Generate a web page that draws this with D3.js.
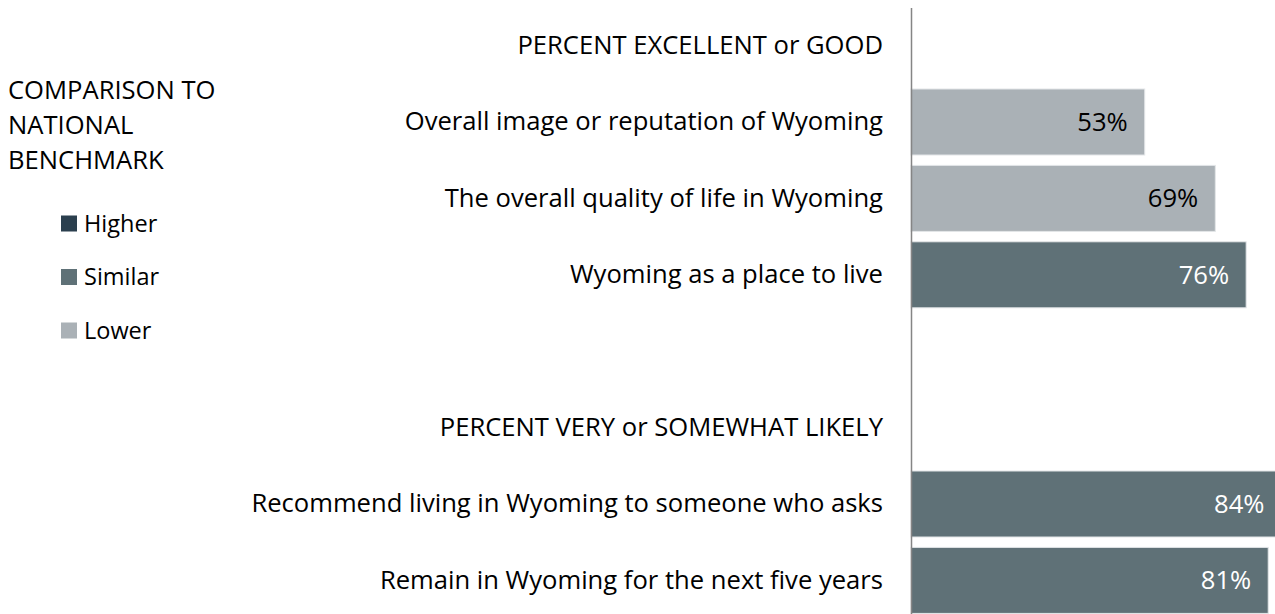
<!DOCTYPE html>
<html>
<head>
<meta charset="utf-8">
<script src="https://cdn.jsdelivr.net/npm/d3@7"></script>
<style>
  body { margin: 0; background: #fff; }
  svg { display: block; }
  svg text { font-family: "Open Sans", sans-serif; font-size: 25.6px; fill: #000; }
  .legendItem text { font-size: 23.5px; }
  .yAxis .domain { stroke: #858585; stroke-width: 1.5; }
</style>
</head>
<body>
<svg id="chart" width="1275" height="614"></svg>
<script>
// -- data -- //
const rowLabels = [
  "PERCENT EXCELLENT or GOOD",
  "Overall image or reputation of Wyoming",
  "The overall quality of life in Wyoming",
  "Wyoming as a place to live",
  "",
  "PERCENT VERY or SOMEWHAT LIKELY",
  "Recommend living in Wyoming to someone who asks",
  "Remain in Wyoming for the next five years"
];
const rowValues = [null, 53, 69, 76, null, null, 84, 81];
const rowComparison = [null, "Lower", "Lower", "Similar", null, null, "Similar", "Similar"];

const legendTitle = ["COMPARISON TO", "NATIONAL", "BENCHMARK"];
const legendKeys = ["Higher", "Similar", "Lower"];
const legendColors = ["#2b3f4e", "#5f7177", "#aab1b6"];

let svg = d3.select("#chart");
let colorScale = d3.scaleOrdinal().domain(legendKeys).range(legendColors);

let rows = rowLabels.map((label, i) => ({
  i: i, label: label, value: rowValues[i], comp: rowComparison[i]
}));

let xScale = d3.scaleLinear().domain([0, 100]).range([911, 1352]);
let yScale = d3.scaleBand()
  .domain(d3.range(rowLabels.length))
  .range([7.4, 618.6])
  .paddingInner(0.136)
  .paddingOuter(0.068);

// -- bars -- //
let barData = rows.filter(d => d.value !== null);

svg.selectAll('.bar')
  .data(barData)
  .enter()
  .append('rect')
  .attr('class', 'bar')
  .attr('x', xScale(0))
  .attr('y', d => yScale(d.i))
  .attr('width', d => xScale(d.value) - xScale(0))
  .attr('height', yScale.bandwidth())
  .style('fill', d => colorScale(d.comp))
  .style('stroke', '#e3e6e8')
  .style('stroke-width', 1);

// -- value labels -- //
svg.selectAll('.valueLabel')
  .data(barData)
  .enter()
  .append('text')
  .attr('class', 'valueLabel')
  .attr('x', d => xScale(d.value) - 17)
  .attr('y', d => yScale(d.i) + yScale.bandwidth() / 2)
  .attr('dy', '0.35em')
  .attr('text-anchor', 'end')
  .style('fill', d => d.comp === "Lower" ? "#000" : "#fff")
  .text(d => d.value + "%");

// -- y axis with category labels -- //
let yAxis = d3.axisLeft(yScale)
  .tickSize(0)
  .tickPadding(28)
  .tickFormat(i => rowLabels[i]);

svg.append('g')
  .attr('class', 'yAxis')
  .attr('transform', `translate(${xScale(0)}, 0)`)
  .call(yAxis)
  .attr('font-family', null)
  .attr('font-size', null);

// -- legend -- //
let legend = svg.append('g').attr('class', 'legend');

legend.selectAll('.legendTitle')
  .data(legendTitle)
  .enter()
  .append('text')
  .attr('class', 'legendTitle')
  .attr('x', 8)
  .attr('y', (d, i) => 90.5 + i * 35)
  .attr('dy', '0.35em')
  .text(d => d);

let items = legend.selectAll('.legendItem')
  .data(legendKeys)
  .enter()
  .append('g')
  .attr('class', 'legendItem')
  .attr('transform', (d, i) => `translate(61, ${223.5 + i * 53.5})`);

items.append('rect')
  .attr('x', 0)
  .attr('y', -8)
  .attr('width', 16)
  .attr('height', 16)
  .style('fill', d => colorScale(d));

items.append('text')
  .attr('x', 23)
  .attr('y', 0)
  .attr('dy', '0.35em')
  .text(d => d);
</script>
</body>
</html>
